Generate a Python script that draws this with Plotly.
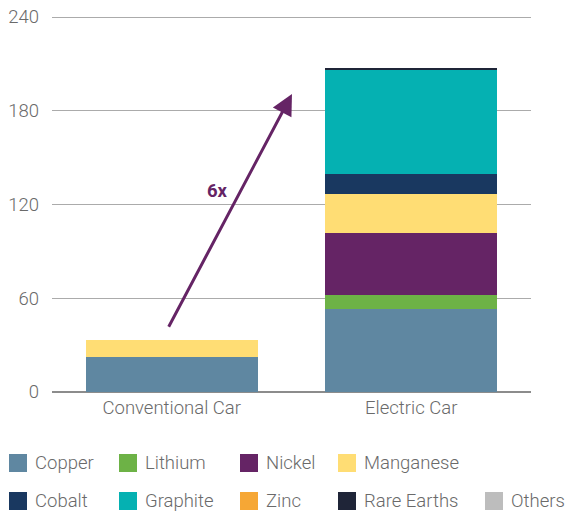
import plotly.graph_objects as go

# Minerals used in a typical car (kg per vehicle)
categories = ["Conventional Car", "Electric Car"]
minerals = ["Copper", "Lithium", "Nickel", "Manganese", "Cobalt",
            "Graphite", "Zinc", "Rare Earths", "Others"]
copper = [22.3, 53.2]
lithium = [0.0, 8.9]
nickel = [0.0, 39.9]
manganese = [11.2, 24.5]
cobalt = [0.0, 13.3]
graphite = [0.0, 66.3]
zinc = [0.0, 0.1]
rare_earths = [0.0, 0.6]
others = [0.0, 0.0]
y_ticks = [0, 60, 120, 180, 240]
multiplier_label = "6x"

values = [copper, lithium, nickel, manganese, cobalt,
          graphite, zinc, rare_earths, others]
colors = ["#5F87A1", "#6DB246", "#652465", "#FFDD74", "#193860",
          "#05B1B2", "#F6A735", "#1F2538", "#BDBDBD"]

FONT = "Roboto"
TEXT = "#6a6a6a"
FS = 18.5

# plot-area geometry (pixels); the y range runs a little past 240 so that
# the top gridline is drawn inside the plot area
W, H = 565, 515
ML, MR, MT, MB = 52, 34, 12, 123
PW, PH = W - ML - MR, H - MT - MB
PX_PER_UNIT = 375 / 240
Y_TOP = PH / PX_PER_UNIT

fig = go.Figure()
for name, vals, col in zip(minerals, values, colors):
    fig.add_trace(go.Bar(
        x=categories, y=vals, name=name, marker_color=col,
        marker_line_width=0, width=0.72, showlegend=False,
    ))

# arrow showing the increase between the two totals
fig.add_annotation(
    x=0.502, y=190.8, ax=-0.016, ay=40.8,
    xref="x", yref="y", axref="x", ayref="y",
    showarrow=True, arrowhead=2, arrowsize=1.4, arrowwidth=3,
    arrowcolor="#652465", standoff=0, startstandoff=0, text="",
)
fig.add_annotation(
    x=0.19, y=128.5, xref="x", yref="y", text=f"<b>{multiplier_label}</b>",
    showarrow=False, font=dict(family=FONT, size=FS, color="#652465"),
)


def px_to_paper(px, py):
    return (px - ML) / PW, (H - MB - py) / PH


# legend drawn as two rows of swatches and labels
legend_rows = [
    [("Copper", 9), ("Lithium", 119), ("Nickel", 240), ("Manganese", 338)],
    [("Cobalt", 9), ("Graphite", 119), ("Zinc", 240), ("Rare Earths", 338), ("Others", 485)],
]
row_tops = [454, 492]
swatch = 18
color_of = dict(zip(minerals, colors))
for row, top in zip(legend_rows, row_tops):
    for name, left in row:
        x0, y0 = px_to_paper(left, top + swatch)
        x1, y1 = px_to_paper(left + swatch, top)
        fig.add_shape(type="rect", xref="paper", yref="paper",
                      x0=x0, y0=y0, x1=x1, y1=y1,
                      fillcolor=color_of[name], line_width=0)
        tx, ty = px_to_paper(left + 24, top + swatch / 2)
        fig.add_annotation(
            x=tx, y=ty, xref="paper", yref="paper", text=name,
            xanchor="left", yanchor="middle", showarrow=False,
            font=dict(family=FONT, size=FS, color=TEXT, weight=300),
        )

fig.update_layout(
    barmode="stack",
    width=W, height=H,
    margin=dict(l=ML, r=MR, t=MT, b=MB, pad=0, autoexpand=False),
    plot_bgcolor="white", paper_bgcolor="white",
    font=dict(family=FONT, size=FS, color=TEXT, weight=300),
    showlegend=False,
)
fig.update_xaxes(
    range=[-0.5, 1.5], showgrid=False, showline=False, ticks="",
    tickfont=dict(family=FONT, size=FS, color=TEXT, weight=300),
    ticklabelstandoff=2, automargin=False,
)
fig.update_yaxes(
    range=[0, Y_TOP], tickvals=y_ticks, showgrid=True, gridcolor="#ababab",
    gridwidth=1, zeroline=True, zerolinecolor="#8c8c8c", zerolinewidth=1.5,
    showline=False, ticks="", ticklabelstandoff=12, automargin=False,
    tickfont=dict(family=FONT, size=FS, color=TEXT, weight=300),
)

fig.write_html("out.html")
